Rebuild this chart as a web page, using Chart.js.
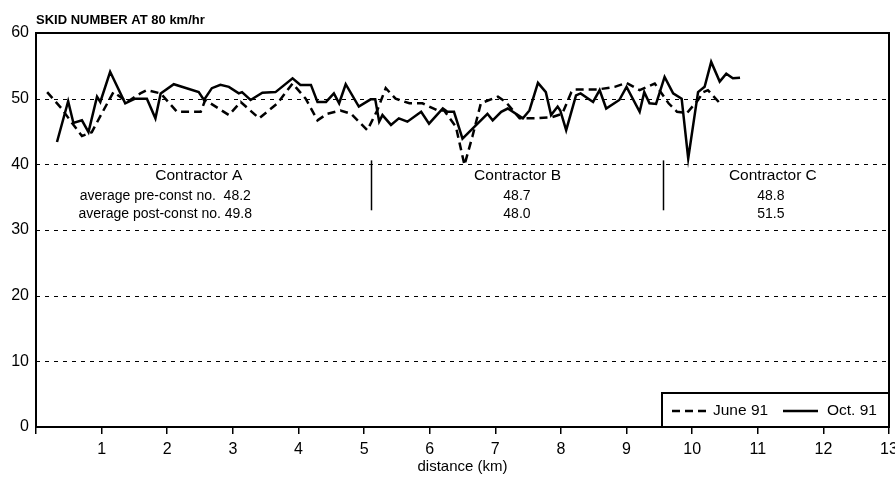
<!DOCTYPE html>
<html>
<head>
<meta charset="utf-8">
<script src="https://cdn.jsdelivr.net/npm/chart.js@4.4.1/dist/chart.umd.min.js"></script>
<style>
  html, body { margin: 0; padding: 0; background: #fff; }
  #wrap { width: 895px; height: 491px; }
</style>
</head>
<body>
<div id="wrap"><canvas id="skidChart" width="895" height="491"></canvas></div>
<script>
// June 91 survey (dashed line)
const juneKm = [0.17, 0.39, 0.52, 0.70, 0.85, 1.00, 1.18, 1.39, 1.59, 1.69, 1.90, 2.15, 2.51, 2.58, 2.94,
  3.12, 3.40, 3.68, 3.91, 4.11, 4.29, 4.44, 4.64, 4.80, 5.05, 5.20, 5.33, 5.48, 5.69, 5.89, 6.12, 6.22,
  6.40, 6.53, 6.65, 6.78, 7.04, 7.16, 7.37, 7.62, 7.87, 8.02, 8.16, 8.21, 8.56, 8.82, 9.00, 9.20, 9.43,
  9.64, 9.77, 9.92, 10.09, 10.17, 10.24, 10.45];
const juneSkid = [51.0, 48.5, 46.7, 44.3, 44.9, 47.7, 51.0, 49.5, 50.8, 51.3, 50.8, 48.0, 48.0, 49.8, 47.5,
  49.5, 47.0, 49.3, 52.3, 50.0, 46.7, 47.7, 48.2, 47.7, 45.2, 48.2, 51.6, 50.0, 49.3, 49.3, 48.2, 48.2,
  45.7, 39.9, 44.2, 49.3, 50.3, 49.5, 47.0, 47.0, 47.2, 47.7, 51.0, 51.4, 51.4, 51.8, 52.4, 51.3, 52.3,
  49.3, 48.0, 47.8, 49.8, 51.0, 51.3, 49.0];

// Oct. 91 survey (solid line)
const octKm = [0.32, 0.49, 0.57, 0.70, 0.80, 0.93, 0.98, 1.13, 1.36, 1.51, 1.69, 1.82, 1.90, 2.10, 2.48,
  2.56, 2.68, 2.81, 2.94, 3.09, 3.14, 3.27, 3.45, 3.65, 3.91, 4.03, 4.19, 4.29, 4.42, 4.54, 4.62, 4.72,
  4.92, 5.10, 5.17, 5.23, 5.28, 5.41, 5.53, 5.66, 5.87, 5.99, 6.20, 6.27, 6.37, 6.50, 6.68, 6.88, 6.96,
  7.09, 7.19, 7.42, 7.52, 7.65, 7.77, 7.85, 7.95, 7.99, 8.08, 8.23, 8.30, 8.49, 8.59, 8.69, 8.89, 9.00,
  9.20, 9.27, 9.35, 9.45, 9.58, 9.71, 9.84, 9.94, 10.09, 10.19, 10.29, 10.42, 10.52, 10.62, 10.73];
const octSkid = [43.4, 49.6, 46.3, 46.7, 44.9, 50.3, 49.5, 54.1, 49.3, 50.0, 50.0, 47.0, 50.8, 52.2, 51.0,
  49.8, 51.6, 52.1, 51.8, 50.8, 51.0, 49.8, 50.9, 51.0, 53.1, 52.1, 52.1, 49.5, 49.5, 50.8, 49.3, 52.2,
  48.8, 49.9, 49.9, 46.5, 47.5, 46.0, 47.0, 46.5, 48.0, 46.2, 48.5, 48.0, 48.0, 43.9, 45.7, 47.7, 46.7,
  48.0, 48.5, 47.0, 48.2, 52.4, 51.0, 47.5, 48.8, 48.2, 45.2, 50.5, 50.8, 49.5, 51.3, 48.5, 49.8, 51.8,
  48.0, 51.0, 49.3, 49.2, 53.3, 50.8, 50.0, 40.9, 51.0, 51.8, 55.6, 52.6, 53.8, 53.1, 53.2];

const contractors = ['Contractor A', 'Contractor B', 'Contractor C'];
const preConstAvg = [48.2, 48.7, 48.8];
const postConstAvg = [49.8, 48.0, 51.5];
const contractBreaks = [5.1, 9.55]; // km

const FONT = "'Liberation Sans', Arial, sans-serif";

const toPoints = (xs, ys) => xs.map((x, i) => ({ x: x, y: ys[i] }));

// dashed horizontal grid + solid frame round the plot
const gridAndFrame = {
    id: 'gridAndFrame',
    beforeDatasetsDraw(chart) {
        const { ctx, chartArea: a, scales: { y } } = chart;
        ctx.save();
        ctx.strokeStyle = '#000';
        ctx.lineWidth = 1;
        ctx.setLineDash([4, 5]);
        y.ticks.forEach(t => {
            if (t.value <= y.min || t.value >= y.max) return;
            const py = Math.round(y.getPixelForValue(t.value)) + 0.5;
            ctx.beginPath();
            ctx.moveTo(a.left, py);
            ctx.lineTo(a.right, py);
            ctx.stroke();
        });
        ctx.restore();
    },
    afterDraw(chart) {
        const { ctx, chartArea: a } = chart;
        ctx.save();
        ctx.strokeStyle = '#000';
        ctx.lineWidth = 2;
        ctx.strokeRect(a.left, a.top, a.right - a.left, a.bottom - a.top);
        ctx.restore();
    }
};

// contractor sections with their averages
const sectionNotes = {
    id: 'sectionNotes',
    afterDatasetsDraw(chart) {
        const { ctx, scales: { x, y } } = chart;
        const nameAt = [2.48, 7.34, 11.23];
        const valueAt = [1.97, 7.33, 11.2];
        const base = y.getPixelForValue(40);

        ctx.save();
        ctx.strokeStyle = '#000';
        ctx.lineWidth = 1.5;
        contractBreaks.forEach(km => {
            const px = Math.round(x.getPixelForValue(km)) + 0.5;
            ctx.beginPath();
            ctx.moveTo(px, y.getPixelForValue(40.6));
            ctx.lineTo(px, y.getPixelForValue(33.0));
            ctx.stroke();
        });

        ctx.fillStyle = '#000';
        ctx.textAlign = 'center';
        ctx.textBaseline = 'alphabetic';
        contractors.forEach((name, i) => {
            ctx.font = `15.5px ${FONT}`;
            ctx.fillText(name, x.getPixelForValue(nameAt[i]), base + 16);
            ctx.font = `14px ${FONT}`;
            const pre = preConstAvg[i].toFixed(1);
            const post = postConstAvg[i].toFixed(1);
            const vx = x.getPixelForValue(valueAt[i]);
            ctx.fillText(i === 0 ? `average pre-const no.  ${pre}` : pre, vx, base + 36);
            ctx.fillText(i === 0 ? `average post-const no. ${post}` : post, vx, base + 54);
        });
        ctx.restore();
    }
};

// boxed legend in the lower right corner + title above the plot
const boxLegend = {
    id: 'boxLegend',
    afterDraw(chart) {
        const { ctx, chartArea: a } = chart;
        const sets = chart.data.datasets;
        const left = a.right - 227, top = a.bottom - 34, midY = top + 18;

        ctx.save();
        ctx.fillStyle = '#fff';
        ctx.fillRect(left, top, a.right - left, a.bottom - top);
        ctx.strokeStyle = '#000';
        ctx.lineWidth = 2;
        ctx.strokeRect(left, top, a.right - left, a.bottom - top);

        const items = [
            { ds: sets[0], x0: left + 10, x1: left + 46, tx: left + 51 },
            { ds: sets[1], x0: left + 121, x1: left + 156, tx: left + 165 }
        ];
        ctx.font = `15.5px ${FONT}`;
        ctx.textBaseline = 'middle';
        ctx.textAlign = 'left';
        items.forEach(it => {
            ctx.lineWidth = it.ds.borderWidth;
            ctx.setLineDash(it.ds.borderDash || []);
            ctx.beginPath();
            ctx.moveTo(it.x0, midY);
            ctx.lineTo(it.x1, midY);
            ctx.stroke();
            ctx.fillStyle = '#000';
            ctx.fillText(it.ds.label, it.tx, midY);
        });
        ctx.setLineDash([]);

        ctx.font = `bold 13px ${FONT}`;
        ctx.textBaseline = 'alphabetic';
        ctx.fillText('SKID NUMBER AT 80 km/hr', a.left, 24);
        ctx.restore();
    }
};

new Chart(document.getElementById('skidChart'), {
    type: 'line',
    data: {
        datasets: [{
            label: 'June 91',
            data: toPoints(juneKm, juneSkid),
            borderColor: '#000',
            borderWidth: 2.5,
            borderDash: [8, 5],
            pointRadius: 0,
            fill: false
        }, {
            label: 'Oct. 91',
            data: toPoints(octKm, octSkid),
            borderColor: '#000',
            borderWidth: 2.5,
            pointRadius: 0,
            fill: false
        }]
    },
    options: {
        responsive: false,
        animation: false,
        devicePixelRatio: 1,
        layout: { padding: { top: 33, right: 6, left: 0, bottom: 0 } },
        plugins: {
            legend: { display: false },
            tooltip: { enabled: false }
        },
        scales: {
            x: {
                type: 'linear',
                min: 0,
                max: 13,
                ticks: {
                    stepSize: 1,
                    color: '#000',
                    font: { family: FONT, size: 16 },
                    padding: 6,
                    maxRotation: 0,
                    autoSkip: false,
                    callback: v => v === 0 ? '' : v
                },
                grid: { drawOnChartArea: false, drawTicks: true, tickLength: 7, color: '#000', lineWidth: 1.5 },
                border: { display: false },
                title: {
                    display: true,
                    text: 'distance (km)',
                    color: '#000',
                    font: { family: FONT, size: 15 },
                    padding: { top: 0, bottom: 15 }
                },
                afterFit: s => { s.height = 64; s.paddingLeft = 0; s.paddingRight = 0; }
            },
            y: {
                min: 0,
                max: 60,
                ticks: {
                    stepSize: 10,
                    color: '#000',
                    font: { family: FONT, size: 16 },
                    padding: 7
                },
                grid: { drawOnChartArea: false, drawTicks: false },
                border: { display: false },
                afterFit: s => { s.width = 36; s.paddingTop = 0; s.paddingBottom = 0; }
            }
        }
    },
    plugins: [gridAndFrame, sectionNotes, boxLegend]
});
</script>
</body>
</html>
